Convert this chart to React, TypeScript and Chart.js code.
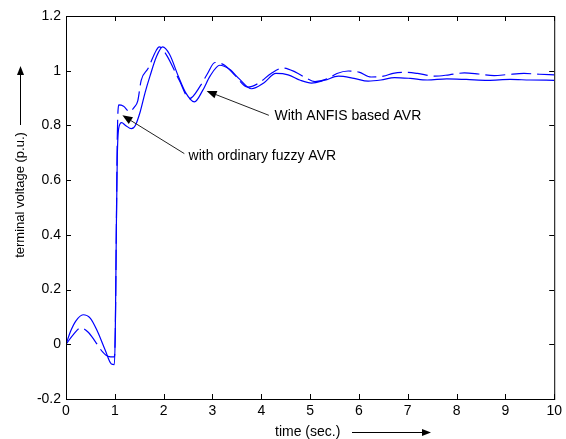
import React, { useEffect, useRef } from "react";
import { Chart, registerables } from "chart.js";

Chart.register(...registerables);

// ---- data ----
const solidT = [0, 0.1, 0.2, 0.35, 0.5, 0.65, 0.8, 0.93, 0.99, 1.01, 1.03, 1.05, 1.08, 1.14, 1.22, 1.34, 1.42, 1.52, 1.62, 1.72, 1.85, 1.98, 2.12, 2.3, 2.45, 2.63, 2.8, 2.95, 3.15, 3.35, 3.55, 3.8, 4.05, 4.3, 4.55, 4.8, 5.03, 5.3, 5.58, 5.9, 6.19, 6.45, 6.73, 7.05, 7.4, 7.8, 8.2, 8.64, 9.1, 9.5, 10];
const solidV = [0, 0.05, 0.085, 0.108, 0.095, 0.045, -0.02, -0.072, -0.074, 0.05, 0.4, 0.68, 0.79, 0.81, 0.8, 0.788, 0.8, 0.85, 0.92, 0.98, 1.05, 1.087, 1.06, 0.98, 0.92, 0.886, 0.928, 0.98, 1.02, 1.005, 0.97, 0.934, 0.955, 0.99, 0.985, 0.965, 0.955, 0.965, 0.98, 0.972, 0.962, 0.966, 0.975, 0.972, 0.966, 0.97, 0.968, 0.965, 0.968, 0.966, 0.965];

const dashedT = [0, 0.15, 0.3, 0.45, 0.6, 0.75, 0.86, 0.99, 1.01, 1.03, 1.05, 1.08, 1.18, 1.3, 1.4, 1.47, 1.54, 1.68, 1.85, 1.91, 2.05, 2.32, 2.53, 2.76, 2.9, 3.05, 3.25, 3.45, 3.72, 3.95, 4.2, 4.45, 4.7, 4.9, 5.1, 5.35, 5.55, 5.78, 6.0, 6.25, 6.5, 6.7, 6.94, 7.2, 7.55, 7.85, 8.16, 8.45, 8.77, 9.05, 9.38, 9.7, 10];
const dashedV = [0, 0.035, 0.06, 0.045, 0.01, -0.028, -0.044, -0.046, 0.05, 0.4, 0.75, 0.875, 0.87, 0.85, 0.867, 0.89, 0.965, 1.008, 1.075, 1.087, 1.06, 0.965, 0.898, 0.947, 0.99, 1.03, 1.02, 0.985, 0.94, 0.955, 0.99, 1.01, 0.995, 0.975, 0.96, 0.97, 0.99, 0.999, 0.995, 0.977, 0.98, 0.99, 0.994, 0.99, 0.98, 0.985, 0.992, 0.988, 0.982, 0.986, 0.99, 0.987, 0.985];

const xTicks = [0, 1, 2, 3, 4, 5, 6, 7, 8, 9, 10];
const xTickLabels = ["0", "1", "2", "3", "4", "5", "6", "7", "8", "9", "10"];
const yTicks = [-0.2, 0, 0.2, 0.4, 0.6, 0.8, 1, 1.2];
const yTickLabels = ["-0.2", "0", "0.2", "0.4", "0.6", "0.8", "1", "1.2"];

const xTitle = "time (sec.)";
const yTitle = "terminal voltage (p.u.)";

// annotations (data coordinates)
const ann1Text = "With ANFIS based AVR";
const ann1Head = [2.88, 0.926];
const ann1Tail = [4.155, 0.837];
const ann1Pos = [4.27, 0.833];
const ann2Text = "with ordinary fuzzy AVR";
const ann2Head = [1.155, 0.837];
const ann2Tail = [2.424, 0.697];
const ann2Pos = [2.51, 0.687];

const FONT = '"Liberation Sans", Arial, Helvetica, sans-serif';

function arrow(ctx: CanvasRenderingContext2D, x1: number, y1: number, x2: number, y2: number, len: number, half: number) {
  const ang = Math.atan2(y2 - y1, x2 - x1);
  const bx = x2 - len * Math.cos(ang);
  const by = y2 - len * Math.sin(ang);
  ctx.beginPath();
  ctx.moveTo(x1, y1);
  ctx.lineTo(bx, by);
  ctx.stroke();
  ctx.beginPath();
  ctx.moveTo(x2, y2);
  ctx.lineTo(bx + half * Math.sin(ang), by - half * Math.cos(ang));
  ctx.lineTo(bx - half * Math.sin(ang), by + half * Math.cos(ang));
  ctx.closePath();
  ctx.fill();
}

const decor = {
  id: "decor",
  afterDraw(chart: any) {
    const { ctx, chartArea: a, scales } = chart;
    const x = scales.x;
    const y = scales.y;
    ctx.save();
    ctx.strokeStyle = "#000";
    ctx.fillStyle = "#000";
    ctx.lineWidth = 1;
    ctx.strokeRect(a.left + 0.5, a.top + 0.5, a.right - a.left, a.bottom - a.top);
    const tl = 5;
    ctx.beginPath();
    xTicks.forEach((t) => {
      const px = Math.round(x.getPixelForValue(t)) + 0.5;
      ctx.moveTo(px, a.bottom);
      ctx.lineTo(px, a.bottom - tl);
      ctx.moveTo(px, a.top);
      ctx.lineTo(px, a.top + tl);
    });
    yTicks.forEach((v) => {
      const py = Math.round(y.getPixelForValue(v)) + 0.5;
      ctx.moveTo(a.left, py);
      ctx.lineTo(a.left + tl, py);
      ctx.moveTo(a.right, py);
      ctx.lineTo(a.right - tl, py);
    });
    ctx.stroke();

    // annotations
    ctx.strokeStyle = "#222";
    ctx.fillStyle = "#000";
    const P = (p: number[]) => [x.getPixelForValue(p[0]), y.getPixelForValue(p[1])];
    const h1 = P(ann1Head), t1 = P(ann1Tail), h2 = P(ann2Head), t2 = P(ann2Tail);
    arrow(ctx, t1[0], t1[1], h1[0], h1[1], 10, 4);
    arrow(ctx, t2[0], t2[1], h2[0], h2[1], 10, 4);
    ctx.font = `14px ${FONT}`;
    ctx.textAlign = "left";
    ctx.textBaseline = "middle";
    const p1 = P(ann1Pos), p2 = P(ann2Pos);
    ctx.fillText(ann1Text, p1[0], p1[1]);
    ctx.fillText(ann2Text, p2[0], p2[1]);

    // axis titles with arrows
    ctx.fillStyle = "#000";
    ctx.strokeStyle = "#000";
    ctx.font = `14px ${FONT}`;
    ctx.textAlign = "left";
    ctx.textBaseline = "middle";
    ctx.fillText(xTitle, 275, 432);
    arrow(ctx, 352, 432.5, 431, 432.5, 9, 3.5);

    ctx.save();
    ctx.translate(20, 195);
    ctx.rotate(-Math.PI / 2);
    ctx.font = `13px ${FONT}`;
    ctx.textAlign = "center";
    ctx.fillText(yTitle, 0, 0);
    ctx.restore();
    arrow(ctx, 20.5, 125, 20.5, 66, 9, 3.5);
    ctx.restore();
  },
};

export default function App() {
  const ref = useRef<HTMLCanvasElement | null>(null);
  useEffect(() => {
    if (!ref.current) return;
    const chart = new Chart(ref.current, {
      type: "scatter",
      data: {
        datasets: [
          {
            data: solidT.map((t, i) => ({ x: t, y: solidV[i] })),
            showLine: true,
            borderColor: "#0000ff",
            borderWidth: 1.2,
            pointRadius: 0,
            cubicInterpolationMode: "monotone",
          },
          {
            data: dashedT.map((t, i) => ({ x: t, y: dashedV[i] })),
            showLine: true,
            borderColor: "#0000ff",
            borderWidth: 1.2,
            borderDash: [20, 6],
            pointRadius: 0,
            cubicInterpolationMode: "monotone",
          },
        ],
      },
      options: {
        animation: false,
        responsive: false,
        devicePixelRatio: 1,
        layout: { padding: { left: 0, right: 9, top: 16, bottom: 0 } },
        plugins: { legend: { display: false }, tooltip: { enabled: false } },
        scales: {
          x: {
            type: "linear",
            min: 0,
            max: 10,
            grid: { display: false, drawTicks: false, tickLength: 0 },
            border: { display: false },
            ticks: {
              color: "#000",
              font: { family: FONT, size: 14 },
              padding: 4,
              maxRotation: 0,
              autoSkip: false,
              callback: (v: any) => {
                const i = xTicks.indexOf(Number(v));
                return i >= 0 ? xTickLabels[i] : "";
              },
            },
            afterBuildTicks: (s: any) => {
              s.ticks = xTicks.map((v) => ({ value: v }));
            },
            afterFit: (s: any) => {
              s.height = 40;
            },
          },
          y: {
            type: "linear",
            min: -0.2,
            max: 1.2,
            grid: { display: false, drawTicks: false, tickLength: 0 },
            border: { display: false },
            ticks: {
              color: "#000",
              font: { family: FONT, size: 14 },
              padding: 5,
              autoSkip: false,
              callback: (v: any) => {
                const i = yTicks.findIndex((t) => Math.abs(t - Number(v)) < 1e-9);
                return i >= 0 ? yTickLabels[i] : "";
              },
            },
            afterBuildTicks: (s: any) => {
              s.ticks = yTicks.map((v) => ({ value: v }));
            },
            afterFit: (s: any) => {
              s.width = 66;
            },
          },
        },
      },
      plugins: [decor],
    } as any);
    return () => chart.destroy();
  }, []);
  return (
    <div style={{ position: "fixed", left: 0, top: 0, width: 566, height: 439, background: "#fff" }}>
      <canvas ref={ref} width={566} height={439} style={{ width: 566, height: 439, display: "block" }} />
    </div>
  );
}
